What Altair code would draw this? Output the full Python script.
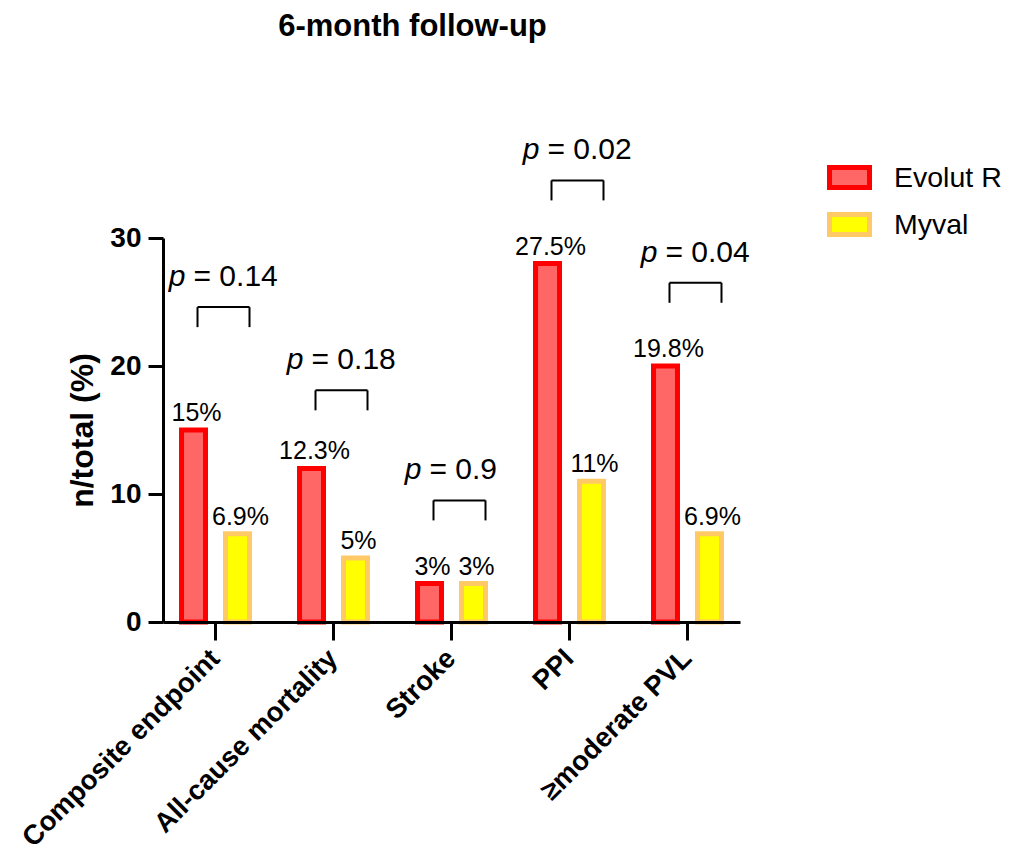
import altair as alt
import pandas as pd

# ---------------- data ----------------
categories = ["Composite endpoint", "All-cause mortality", "Stroke", "PPI", "≥moderate PVL"]
groups = ["Evolut R", "Myval"]
evolut_values = [15, 12, 3, 28, 20]
myval_values = [6.9, 5, 3, 11, 6.9]
evolut_labels = ["15%", "12.3%", "3%", "27.5%", "19.8%"]
myval_labels = ["6.9%", "5%", "3%", "11%", "6.9%"]
p_values = ["0.14", "0.18", "0.9", "0.02", "0.04"]
bracket_levels = [24.6, 18.1, 9.5, 34.5, 26.5]

fill_colors = ["#FF6666", "#FFFF00"]
stroke_colors = ["#FF0000", "#FFC966"]
FONT = "Liberation Sans"

bars = pd.DataFrame({
    "category": categories * 2,
    "group": [groups[0]] * 5 + [groups[1]] * 5,
    "value": evolut_values + myval_values,
    "label": evolut_labels + myval_labels,
})
ann = pd.DataFrame({
    "category": categories,
    "level": bracket_levels,
    "eq": ["= " + p for p in p_values],
})

# ---------------- scales ----------------
x_enc = alt.X(
    "category:N", sort=categories,
    scale=alt.Scale(paddingInner=0.424, paddingOuter=0.157),
    axis=alt.Axis(
        title=None, labelAngle=-45, labelAlign="right", labelBaseline="middle",
        labelFont=FONT, labelFontSize=27.5,
        labelFontWeight="bold", labelColor="black", labelPadding=14,
        tickSize=18, tickWidth=3, tickColor="black",
        domainWidth=3, domainColor="black", labelLimit=0, zindex=1,
    ),
)
y_enc = alt.Y(
    "value:Q",
    scale=alt.Scale(domain=[0, 30], nice=False),
    axis=alt.Axis(
        values=[0, 10, 20, 30], title="n/total (%)", titleFont=FONT,
        titleFontSize=32, titleFontWeight="bold", titleColor="black",
        titlePadding=10, labelFont=FONT, labelFontSize=28,
        labelFontWeight="bold", labelColor="black", labelPadding=7,
        tickSize=15, tickWidth=3, tickColor="black",
        domainWidth=3, domainColor="black", grid=False, zindex=1,
    ),
)
legend = alt.Legend(
    title=None, orient="none", legendX=664, legendY=-83,
    symbolType="M-1,-0.5L1,-0.5L1,0.5L-1,0.5Z", symbolSize=1600,
    symbolStrokeWidth=5, symbolOpacity=1,
    labelFont=FONT, labelFontSize=28.5, labelColor="black",
    labelOffset=22, rowPadding=4, padding=0,
)

base = alt.Chart(bars)

bar_layer = base.mark_bar(strokeWidth=5, opacity=1).encode(
    x=x_enc,
    xOffset=alt.XOffset("group:N", sort=groups,
                        scale=alt.Scale(paddingInner=0.4545, paddingOuter=0)),
    y=y_enc,
    fill=alt.Fill("group:N", sort=groups,
                  scale=alt.Scale(domain=groups, range=fill_colors), legend=legend),
    stroke=alt.Stroke("group:N", sort=groups,
                      scale=alt.Scale(domain=groups, range=stroke_colors), legend=legend),
)

value_text = base.mark_text(
    font=FONT, fontSize=25, color="black", baseline="alphabetic", dy=-9, dx=3,
).encode(
    x=alt.X("category:N", sort=categories),
    xOffset=alt.XOffset("group:N", sort=groups),
    y=alt.Y("value:Q"),
    text="label:N",
)

abase = alt.Chart(ann)
ax = alt.X("category:N", sort=categories)
ay = alt.Y("level:Q")

bracket_top = abase.mark_rule(color="black", strokeWidth=2, xOffset=-18, x2Offset=34).encode(
    x=ax, x2=alt.X2("category:N"), y=ay,
)
bracket_left = abase.mark_rule(color="black", strokeWidth=2, xOffset=-18, y2Offset=20).encode(
    x=ax, y=ay, y2=alt.Y2("level:Q"),
)
bracket_right = abase.mark_rule(color="black", strokeWidth=2, xOffset=34, y2Offset=20).encode(
    x=ax, y=ay, y2=alt.Y2("level:Q"),
)
p_italic = abase.mark_text(
    font=FONT, fontSize=30, fontStyle="italic", color="black",
    align="right", baseline="alphabetic", dx=-30, dy=-21,
).encode(x=ax, y=ay, text=alt.value("p"))
p_rest = abase.mark_text(
    font=FONT, fontSize=30, color="black",
    align="left", baseline="alphabetic", dx=-22, dy=-21,
).encode(x=ax, y=ay, text="eq:N")

chart = alt.layer(
    bar_layer, value_text, bracket_top, bracket_left, bracket_right, p_italic, p_rest
).properties(
    width=577, height=384,
    title=alt.TitleParams(
        "6-month follow-up", font=FONT, fontSize=31, fontWeight="bold",
        color="black", anchor="middle", dx=-39, dy=-88,
    ),
    autosize=alt.AutoSizeParams(type="none"),
    padding={"left": 155, "top": 230, "right": 262, "bottom": 229},
).configure_view(stroke=None)

chart.save("out.html", embed_options={"renderer": "svg", "actions": False})
